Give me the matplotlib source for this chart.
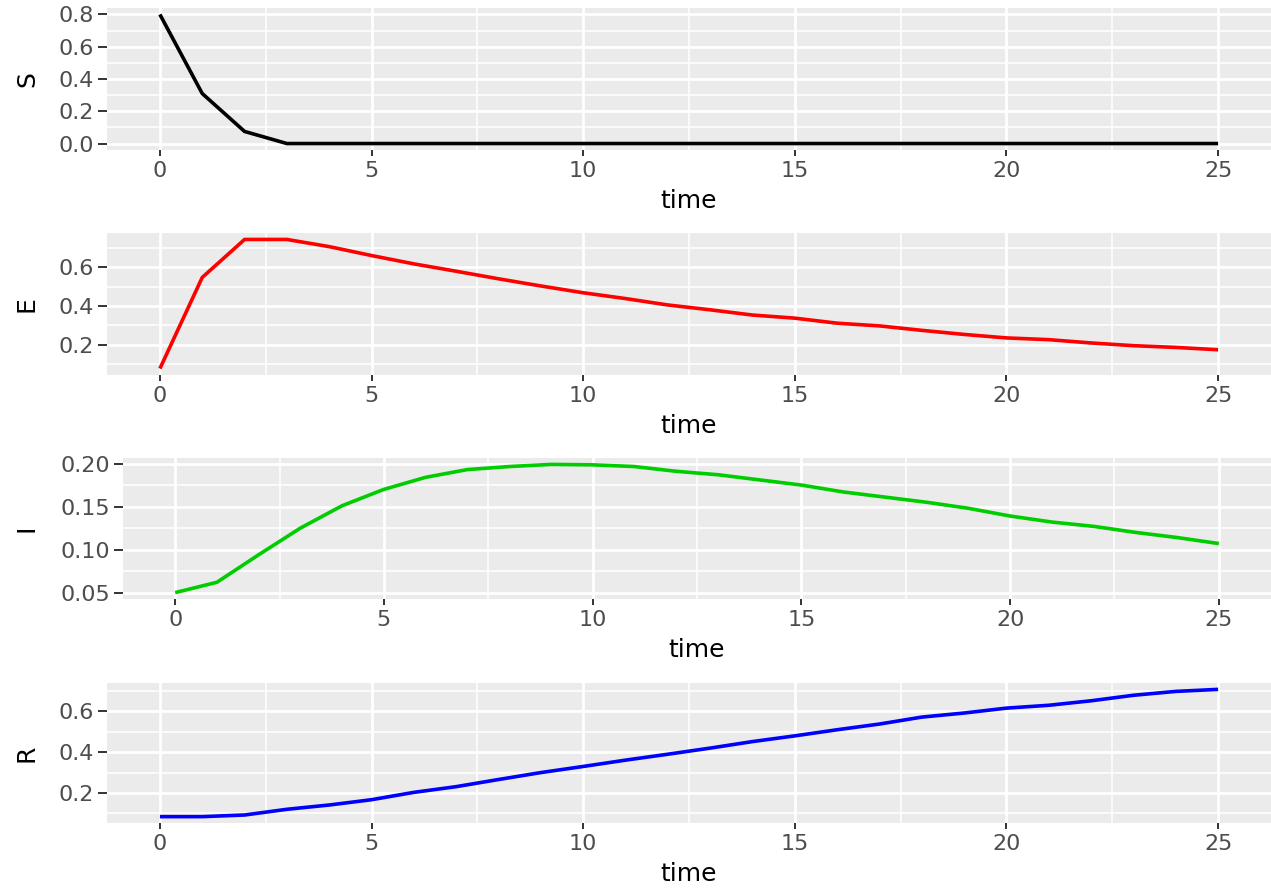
import matplotlib
matplotlib.use("Agg")
from matplotlib import pyplot as plt
from matplotlib.ticker import FixedLocator, FormatStrFormatter

# SEIR model output
time = list(range(0, 26))

S = [0.80, 0.31, 0.075, 0.0, 0.0, 0.0, 0.0, 0.0, 0.0, 0.0, 0.0, 0.0, 0.0,
     0.0, 0.0, 0.0, 0.0, 0.0, 0.0, 0.0, 0.0, 0.0, 0.0, 0.0, 0.0, 0.0]
E = [0.077, 0.547, 0.743, 0.743, 0.706, 0.660, 0.617, 0.579, 0.540, 0.503,
     0.468, 0.438, 0.405, 0.380, 0.353, 0.337, 0.311, 0.297, 0.274, 0.253,
     0.235, 0.226, 0.209, 0.195, 0.186, 0.174]
I = [0.050, 0.062, 0.094, 0.125, 0.151, 0.170, 0.184, 0.193, 0.1965, 0.199,
     0.1985, 0.1965, 0.191, 0.187, 0.181, 0.175, 0.167, 0.161, 0.155, 0.148,
     0.139, 0.132, 0.127, 0.120, 0.114, 0.107]
R = [0.084, 0.084, 0.092, 0.120, 0.141, 0.167, 0.203, 0.231, 0.266, 0.300,
     0.330, 0.361, 0.390, 0.420, 0.452, 0.480, 0.510, 0.538, 0.572, 0.592,
     0.616, 0.630, 0.652, 0.679, 0.698, 0.708]

x_ticks = [0, 5, 10, 15, 20, 25]
x_minor = [2.5, 7.5, 12.5, 17.5, 22.5]

S_ticks = [0.0, 0.2, 0.4, 0.6, 0.8]
S_minor = [0.1, 0.3, 0.5, 0.7]
E_ticks = [0.2, 0.4, 0.6]
E_minor = [0.1, 0.3, 0.5, 0.7]
I_ticks = [0.05, 0.10, 0.15, 0.20]
I_minor = [0.075, 0.125, 0.175]
R_ticks = [0.2, 0.4, 0.6]
R_minor = [0.1, 0.3, 0.5, 0.7]

W, H = 1271, 888
plt.rcParams['font.family'] = ['DejaVu Sans']

fig = plt.figure(figsize=(W / 100, H / 100), dpi=100)

# (name, data, colour, major, minor, fmt, left px, top px, bottom px)
panels = [
    ('S', S, 'black', S_ticks, S_minor, '%.1f', 107, 8, 150),
    ('E', E, '#FF0000', E_ticks, E_minor, '%.1f', 107, 233, 375),
    ('I', I, '#00CD00', I_ticks, I_minor, '%.2f', 123, 458, 599),
    ('R', R, '#0000FF', R_ticks, R_minor, '%.1f', 107, 683, 823),
]

for name, vals, col, major, minor, fmt, left, top, bottom in panels:
    ax = fig.add_axes([left / W, 1 - bottom / H, (W - left) / W, (bottom - top) / H])
    ax.set_facecolor('#EBEBEB')
    ax.plot(time, vals, color=col, lw=2.6, solid_capstyle='butt', zorder=3)
    ax.margins(x=0.05, y=0.05)

    ax.xaxis.set_major_locator(FixedLocator(x_ticks))
    ax.xaxis.set_minor_locator(FixedLocator(x_minor))
    ax.yaxis.set_major_locator(FixedLocator(major))
    ax.yaxis.set_minor_locator(FixedLocator(minor))
    ax.yaxis.set_major_formatter(FormatStrFormatter(fmt))

    ax.grid(which='major', color='white', lw=2.0, zorder=0)
    ax.grid(which='minor', color='white', lw=1.1, zorder=0)
    ax.set_axisbelow(True)
    for sp in ax.spines.values():
        sp.set_visible(False)

    ax.tick_params(axis='x', which='major', length=4, width=1.4, color='#333333',
                   labelsize=16, labelcolor='#4D4D4D', pad=4)
    ax.tick_params(axis='y', which='major', length=6.5, width=1.4, color='#333333',
                   labelsize=16, labelcolor='#4D4D4D', pad=3)
    ax.tick_params(which='minor', length=0)

    ax.set_xlabel('time', fontsize=18, color='black')
    ax.xaxis.set_label_coords(0.5, -39 / (bottom - top))
    ax.set_ylabel(name, fontsize=18, color='black')
    ax.yaxis.set_label_coords(39 / W, 1 - (top + bottom) / 2 / H, transform=fig.transFigure)

fig.savefig('out.png', dpi=100)
